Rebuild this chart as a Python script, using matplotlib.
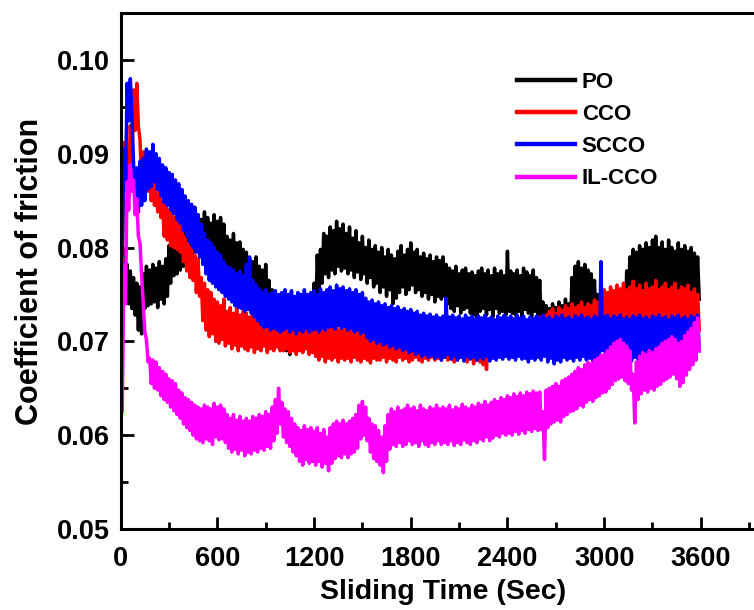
import numpy as np
import matplotlib
matplotlib.use("Agg")
import matplotlib.pyplot as plt
from matplotlib.ticker import MultipleLocator, FormatStrFormatter

plt.rcParams['font.family'] = ['Liberation Sans', 'DejaVu Sans']
plt.rcParams['font.weight'] = 'bold'

# the friction trace is a noisy band: its upper and lower edges are logged
# on staggered 20 s grids and the line swings between them
time_top = np.arange(0, 3600, 20)
time_bottom = np.arange(10, 3600, 20)

po_top = [
    0.0800, 0.0798, 0.0782, 0.0775, 0.0768, 0.0762, 0.0758, 0.0772, 0.0780, 0.0776,
    0.0782, 0.0778, 0.0785, 0.0780, 0.0788, 0.0802, 0.0800, 0.0808, 0.0815, 0.0822,
    0.0818, 0.0828, 0.0832, 0.0843, 0.0835, 0.0830, 0.0838, 0.0832, 0.0826, 0.0835,
    0.0828, 0.0832, 0.0825, 0.0812, 0.0808, 0.0815, 0.0805, 0.0806, 0.0798, 0.0795,
    0.0788, 0.0785, 0.0790, 0.0780, 0.0776, 0.0782, 0.0765, 0.0755, 0.0742, 0.0735,
    0.0732, 0.0735, 0.0728, 0.0732, 0.0726, 0.0730, 0.0725, 0.0728, 0.0722, 0.0738,
    0.0762, 0.0792, 0.0798, 0.0815, 0.0812, 0.0822, 0.0818, 0.0828, 0.0820, 0.0825,
    0.0815, 0.0822, 0.0810, 0.0818, 0.0805, 0.0812, 0.0800, 0.0808, 0.0798, 0.0802,
    0.0795, 0.0800, 0.0790, 0.0798, 0.0792, 0.0788, 0.0796, 0.0802, 0.0792, 0.0798,
    0.0805, 0.0795, 0.0798, 0.0790, 0.0794, 0.0788, 0.0792, 0.0785, 0.0790, 0.0786,
    0.0790, 0.0782, 0.0778, 0.0775, 0.0780, 0.0772, 0.0776, 0.0778, 0.0772, 0.0774,
    0.0770, 0.0775, 0.0778, 0.0772, 0.0776, 0.0770, 0.0778, 0.0772, 0.0775, 0.0770,
    0.0796, 0.0775, 0.0772, 0.0776, 0.0770, 0.0778, 0.0774, 0.0770, 0.0776, 0.0768,
    0.0765, 0.0742, 0.0738, 0.0735, 0.0740, 0.0736, 0.0742, 0.0738, 0.0745, 0.0740,
    0.0768, 0.0780, 0.0785, 0.0778, 0.0782, 0.0776, 0.0772, 0.0765, 0.0750, 0.0742,
    0.0745, 0.0738, 0.0742, 0.0736, 0.0740, 0.0745, 0.0752, 0.0775, 0.0790, 0.0798,
    0.0795, 0.0802, 0.0798, 0.0805, 0.0800, 0.0808, 0.0812, 0.0800, 0.0806, 0.0798,
    0.0808, 0.0800, 0.0796, 0.0805, 0.0798, 0.0802, 0.0796, 0.0800, 0.0794, 0.0790,
]
po_bottom = [
    0.0775, 0.0752, 0.0740, 0.0735, 0.0728, 0.0712, 0.0708, 0.0735, 0.0738, 0.0740,
    0.0742, 0.0736, 0.0745, 0.0740, 0.0748, 0.0762, 0.0770, 0.0772, 0.0776, 0.0780,
    0.0785, 0.0790, 0.0795, 0.0800, 0.0795, 0.0790, 0.0798, 0.0792, 0.0788, 0.0790,
    0.0785, 0.0788, 0.0782, 0.0775, 0.0768, 0.0772, 0.0765, 0.0768, 0.0758, 0.0755,
    0.0748, 0.0745, 0.0750, 0.0740, 0.0738, 0.0742, 0.0725, 0.0712, 0.0700, 0.0695,
    0.0692, 0.0690, 0.0686, 0.0692, 0.0688, 0.0695, 0.0692, 0.0696, 0.0694, 0.0702,
    0.0720, 0.0748, 0.0762, 0.0772, 0.0768, 0.0776, 0.0772, 0.0780, 0.0775, 0.0778,
    0.0772, 0.0776, 0.0768, 0.0774, 0.0766, 0.0772, 0.0762, 0.0768, 0.0758, 0.0762,
    0.0752, 0.0758, 0.0748, 0.0755, 0.0740, 0.0746, 0.0752, 0.0758, 0.0750, 0.0755,
    0.0760, 0.0752, 0.0755, 0.0748, 0.0752, 0.0745, 0.0750, 0.0742, 0.0748, 0.0745,
    0.0748, 0.0740, 0.0735, 0.0732, 0.0738, 0.0730, 0.0734, 0.0736, 0.0730, 0.0728,
    0.0726, 0.0732, 0.0735, 0.0728, 0.0734, 0.0726, 0.0735, 0.0730, 0.0732, 0.0728,
    0.0732, 0.0730, 0.0728, 0.0732, 0.0726, 0.0734, 0.0730, 0.0726, 0.0732, 0.0722,
    0.0718, 0.0700, 0.0695, 0.0685, 0.0698, 0.0692, 0.0700, 0.0696, 0.0702, 0.0698,
    0.0722, 0.0732, 0.0738, 0.0732, 0.0735, 0.0730, 0.0726, 0.0718, 0.0708, 0.0702,
    0.0705, 0.0698, 0.0702, 0.0696, 0.0700, 0.0705, 0.0712, 0.0735, 0.0748, 0.0752,
    0.0750, 0.0755, 0.0752, 0.0758, 0.0754, 0.0760, 0.0758, 0.0752, 0.0756, 0.0750,
    0.0758, 0.0752, 0.0750, 0.0756, 0.0750, 0.0754, 0.0748, 0.0752, 0.0746, 0.0745,
]

cco_top = [
    0.0810, 0.0912, 0.0905, 0.0930, 0.0968, 0.0975, 0.0915, 0.0902, 0.0898, 0.0888,
    0.0880, 0.0872, 0.0868, 0.0848, 0.0845, 0.0840, 0.0838, 0.0832, 0.0830, 0.0822,
    0.0812, 0.0805, 0.0800, 0.0792, 0.0788, 0.0768, 0.0762, 0.0755, 0.0752, 0.0745,
    0.0742, 0.0738, 0.0745, 0.0732, 0.0736, 0.0730, 0.0735, 0.0728, 0.0732, 0.0730,
    0.0726, 0.0735, 0.0728, 0.0732, 0.0725, 0.0730, 0.0722, 0.0728, 0.0724, 0.0726,
    0.0722, 0.0726, 0.0720, 0.0725, 0.0718, 0.0724, 0.0720, 0.0722, 0.0718, 0.0720,
    0.0716, 0.0720, 0.0714, 0.0718, 0.0712, 0.0716, 0.0715, 0.0718, 0.0712, 0.0716,
    0.0714, 0.0718, 0.0712, 0.0716, 0.0714, 0.0718, 0.0712, 0.0715, 0.0713, 0.0716,
    0.0712, 0.0716, 0.0714, 0.0718, 0.0712, 0.0715, 0.0713, 0.0716, 0.0712, 0.0714,
    0.0716, 0.0712, 0.0715, 0.0713, 0.0716, 0.0712, 0.0715, 0.0712, 0.0714, 0.0716,
    0.0714, 0.0716, 0.0712, 0.0715, 0.0713, 0.0716, 0.0712, 0.0714, 0.0712, 0.0715,
    0.0712, 0.0710, 0.0714, 0.0712, 0.0716, 0.0718, 0.0720, 0.0718, 0.0722, 0.0720,
    0.0722, 0.0720, 0.0724, 0.0722, 0.0720, 0.0724, 0.0722, 0.0725, 0.0722, 0.0724,
    0.0726, 0.0724, 0.0728, 0.0732, 0.0735, 0.0730, 0.0736, 0.0733, 0.0738, 0.0735,
    0.0740, 0.0736, 0.0738, 0.0742, 0.0736, 0.0740, 0.0738, 0.0744, 0.0742, 0.0752,
    0.0755, 0.0752, 0.0758, 0.0754, 0.0760, 0.0756, 0.0762, 0.0755, 0.0758, 0.0764,
    0.0756, 0.0760, 0.0754, 0.0762, 0.0756, 0.0758, 0.0765, 0.0755, 0.0758, 0.0762,
    0.0755, 0.0758, 0.0762, 0.0754, 0.0758, 0.0756, 0.0760, 0.0752, 0.0756, 0.0750,
]
cco_bottom = [
    0.0770, 0.0872, 0.0868, 0.0890, 0.0925, 0.0930, 0.0872, 0.0868, 0.0860, 0.0850,
    0.0845, 0.0838, 0.0832, 0.0812, 0.0808, 0.0802, 0.0800, 0.0798, 0.0795, 0.0785,
    0.0775, 0.0768, 0.0765, 0.0752, 0.0748, 0.0722, 0.0712, 0.0705, 0.0708, 0.0700,
    0.0698, 0.0702, 0.0695, 0.0698, 0.0692, 0.0696, 0.0690, 0.0695, 0.0692, 0.0690,
    0.0694, 0.0688, 0.0692, 0.0690, 0.0695, 0.0688, 0.0692, 0.0690, 0.0694, 0.0690,
    0.0690, 0.0692, 0.0688, 0.0690, 0.0686, 0.0690, 0.0688, 0.0692, 0.0686, 0.0688,
    0.0684, 0.0680, 0.0684, 0.0678, 0.0682, 0.0680, 0.0683, 0.0678, 0.0682, 0.0680,
    0.0682, 0.0678, 0.0683, 0.0680, 0.0678, 0.0682, 0.0680, 0.0677, 0.0682, 0.0680,
    0.0680, 0.0683, 0.0678, 0.0682, 0.0680, 0.0678, 0.0683, 0.0680, 0.0682, 0.0678,
    0.0680, 0.0683, 0.0680, 0.0678, 0.0682, 0.0680, 0.0683, 0.0680, 0.0682, 0.0680,
    0.0683, 0.0680, 0.0682, 0.0678, 0.0680, 0.0683, 0.0680, 0.0678, 0.0682, 0.0676,
    0.0680, 0.0678, 0.0675, 0.0670, 0.0680, 0.0684, 0.0688, 0.0686, 0.0690, 0.0688,
    0.0690, 0.0688, 0.0692, 0.0690, 0.0688, 0.0692, 0.0690, 0.0693, 0.0690, 0.0692,
    0.0694, 0.0692, 0.0695, 0.0698, 0.0700, 0.0698, 0.0702, 0.0700, 0.0703, 0.0700,
    0.0704, 0.0702, 0.0705, 0.0708, 0.0702, 0.0706, 0.0704, 0.0708, 0.0706, 0.0712,
    0.0715, 0.0712, 0.0716, 0.0714, 0.0718, 0.0715, 0.0720, 0.0715, 0.0718, 0.0720,
    0.0715, 0.0718, 0.0714, 0.0720, 0.0715, 0.0718, 0.0720, 0.0714, 0.0716, 0.0720,
    0.0714, 0.0718, 0.0720, 0.0714, 0.0716, 0.0715, 0.0718, 0.0712, 0.0715, 0.0712,
]

scco_top = [
    0.0830, 0.0905, 0.0975, 0.0980, 0.0890, 0.0885, 0.0892, 0.0895, 0.0905, 0.0902,
    0.0910, 0.0900, 0.0895, 0.0888, 0.0885, 0.0880, 0.0878, 0.0872, 0.0868, 0.0862,
    0.0855, 0.0850, 0.0846, 0.0842, 0.0835, 0.0825, 0.0815, 0.0808, 0.0805, 0.0800,
    0.0795, 0.0792, 0.0785, 0.0780, 0.0778, 0.0776, 0.0772, 0.0775, 0.0770, 0.0782,
    0.0790, 0.0765, 0.0760, 0.0756, 0.0752, 0.0755, 0.0750, 0.0752, 0.0754, 0.0750,
    0.0752, 0.0755, 0.0750, 0.0754, 0.0748, 0.0752, 0.0750, 0.0755, 0.0750, 0.0752,
    0.0754, 0.0750, 0.0756, 0.0752, 0.0755, 0.0758, 0.0754, 0.0760, 0.0756, 0.0758,
    0.0754, 0.0756, 0.0752, 0.0755, 0.0750, 0.0752, 0.0746, 0.0742, 0.0744, 0.0740,
    0.0742, 0.0738, 0.0740, 0.0736, 0.0738, 0.0735, 0.0737, 0.0733, 0.0735, 0.0732,
    0.0734, 0.0730, 0.0732, 0.0728, 0.0730, 0.0727, 0.0729, 0.0726, 0.0728, 0.0725,
    0.0727, 0.0746, 0.0726, 0.0728, 0.0725, 0.0727, 0.0724, 0.0728, 0.0725, 0.0727,
    0.0724, 0.0727, 0.0725, 0.0728, 0.0724, 0.0726, 0.0723, 0.0727, 0.0725, 0.0728,
    0.0725, 0.0727, 0.0724, 0.0728, 0.0725, 0.0727, 0.0723, 0.0726, 0.0724, 0.0727,
    0.0725, 0.0728, 0.0724, 0.0726, 0.0723, 0.0727, 0.0725, 0.0728, 0.0724, 0.0726,
    0.0723, 0.0727, 0.0725, 0.0728, 0.0724, 0.0726, 0.0723, 0.0727, 0.0725, 0.0785,
    0.0726, 0.0728, 0.0724, 0.0727, 0.0725, 0.0728, 0.0724, 0.0726, 0.0723, 0.0727,
    0.0725, 0.0728, 0.0724, 0.0726, 0.0723, 0.0727, 0.0725, 0.0728, 0.0724, 0.0726,
    0.0723, 0.0727, 0.0725, 0.0728, 0.0724, 0.0726, 0.0723, 0.0727, 0.0725, 0.0728,
]
scco_bottom = [
    0.0790, 0.0860, 0.0935, 0.0940, 0.0845, 0.0838, 0.0845, 0.0850, 0.0862, 0.0865,
    0.0870, 0.0862, 0.0855, 0.0848, 0.0845, 0.0840, 0.0836, 0.0830, 0.0826, 0.0818,
    0.0812, 0.0805, 0.0800, 0.0795, 0.0790, 0.0782, 0.0772, 0.0765, 0.0762, 0.0758,
    0.0755, 0.0752, 0.0748, 0.0745, 0.0742, 0.0738, 0.0736, 0.0735, 0.0732, 0.0734,
    0.0730, 0.0726, 0.0722, 0.0718, 0.0715, 0.0716, 0.0712, 0.0714, 0.0712, 0.0710,
    0.0712, 0.0714, 0.0710, 0.0713, 0.0708, 0.0712, 0.0710, 0.0714, 0.0710, 0.0712,
    0.0713, 0.0710, 0.0714, 0.0712, 0.0715, 0.0716, 0.0713, 0.0717, 0.0714, 0.0716,
    0.0712, 0.0714, 0.0710, 0.0712, 0.0708, 0.0710, 0.0704, 0.0700, 0.0702, 0.0698,
    0.0700, 0.0696, 0.0698, 0.0694, 0.0696, 0.0692, 0.0694, 0.0690, 0.0692, 0.0688,
    0.0690, 0.0686, 0.0688, 0.0684, 0.0686, 0.0683, 0.0685, 0.0682, 0.0684, 0.0680,
    0.0683, 0.0686, 0.0681, 0.0684, 0.0680, 0.0683, 0.0679, 0.0684, 0.0681, 0.0683,
    0.0680, 0.0683, 0.0681, 0.0684, 0.0679, 0.0682, 0.0680, 0.0683, 0.0681, 0.0684,
    0.0681, 0.0683, 0.0680, 0.0684, 0.0681, 0.0682, 0.0678, 0.0682, 0.0680, 0.0683,
    0.0680, 0.0684, 0.0678, 0.0682, 0.0676, 0.0680, 0.0678, 0.0683, 0.0680, 0.0682,
    0.0679, 0.0683, 0.0680, 0.0684, 0.0680, 0.0682, 0.0679, 0.0683, 0.0681, 0.0690,
    0.0682, 0.0684, 0.0680, 0.0683, 0.0681, 0.0684, 0.0680, 0.0682, 0.0679, 0.0683,
    0.0681, 0.0684, 0.0680, 0.0682, 0.0679, 0.0683, 0.0681, 0.0684, 0.0680, 0.0682,
    0.0679, 0.0683, 0.0681, 0.0684, 0.0680, 0.0682, 0.0679, 0.0683, 0.0681, 0.0690,
]

il_cco_top = [
    0.0650, 0.0780, 0.0870, 0.0888, 0.0872, 0.0852, 0.0805, 0.0742, 0.0702, 0.0682,
    0.0680, 0.0678, 0.0672, 0.0668, 0.0665, 0.0660, 0.0658, 0.0655, 0.0648, 0.0645,
    0.0640, 0.0638, 0.0635, 0.0632, 0.0630, 0.0628, 0.0632, 0.0630, 0.0628, 0.0634,
    0.0630, 0.0632, 0.0628, 0.0622, 0.0618, 0.0622, 0.0616, 0.0620, 0.0615, 0.0618,
    0.0615, 0.0620, 0.0618, 0.0622, 0.0620, 0.0625, 0.0622, 0.0630, 0.0638, 0.0650,
    0.0635, 0.0628, 0.0625, 0.0618, 0.0612, 0.0608, 0.0605, 0.0610, 0.0606, 0.0608,
    0.0604, 0.0608, 0.0602, 0.0606, 0.0598, 0.0608, 0.0612, 0.0615, 0.0612, 0.0616,
    0.0612, 0.0615, 0.0618, 0.0622, 0.0632, 0.0636, 0.0630, 0.0618, 0.0612, 0.0610,
    0.0605, 0.0598, 0.0610, 0.0622, 0.0628, 0.0625, 0.0630, 0.0626, 0.0628, 0.0632,
    0.0628, 0.0630, 0.0626, 0.0632, 0.0628, 0.0626, 0.0630, 0.0628, 0.0632, 0.0628,
    0.0630, 0.0628, 0.0632, 0.0627, 0.0630, 0.0628, 0.0633, 0.0630, 0.0628, 0.0632,
    0.0630, 0.0634, 0.0632, 0.0636, 0.0632, 0.0635, 0.0638, 0.0636, 0.0640, 0.0638,
    0.0642, 0.0640, 0.0644, 0.0641, 0.0645, 0.0642, 0.0646, 0.0644, 0.0647, 0.0645,
    0.0646, 0.0625, 0.0648, 0.0650, 0.0652, 0.0655, 0.0652, 0.0658, 0.0660, 0.0662,
    0.0665, 0.0668, 0.0672, 0.0670, 0.0675, 0.0678, 0.0676, 0.0680, 0.0682, 0.0685,
    0.0686, 0.0690, 0.0694, 0.0698, 0.0700, 0.0702, 0.0698, 0.0695, 0.0690, 0.0665,
    0.0678, 0.0684, 0.0688, 0.0686, 0.0690, 0.0688, 0.0692, 0.0694, 0.0698, 0.0700,
    0.0702, 0.0705, 0.0702, 0.0698, 0.0700, 0.0706, 0.0710, 0.0714, 0.0720, 0.0725,
]
il_cco_bottom = [
    0.0625, 0.0740, 0.0840, 0.0860, 0.0835, 0.0812, 0.0772, 0.0710, 0.0678, 0.0655,
    0.0650, 0.0648, 0.0642, 0.0638, 0.0635, 0.0630, 0.0626, 0.0622, 0.0618, 0.0612,
    0.0608, 0.0605, 0.0600, 0.0596, 0.0594, 0.0592, 0.0596, 0.0594, 0.0590, 0.0598,
    0.0595, 0.0596, 0.0592, 0.0586, 0.0582, 0.0585, 0.0580, 0.0584, 0.0578, 0.0582,
    0.0580, 0.0584, 0.0582, 0.0586, 0.0584, 0.0588, 0.0586, 0.0594, 0.0602, 0.0612,
    0.0598, 0.0592, 0.0588, 0.0582, 0.0578, 0.0572, 0.0568, 0.0574, 0.0570, 0.0572,
    0.0568, 0.0572, 0.0566, 0.0570, 0.0562, 0.0570, 0.0575, 0.0578, 0.0576, 0.0580,
    0.0576, 0.0580, 0.0582, 0.0586, 0.0596, 0.0600, 0.0594, 0.0582, 0.0575, 0.0572,
    0.0568, 0.0560, 0.0572, 0.0585, 0.0590, 0.0588, 0.0592, 0.0588, 0.0590, 0.0594,
    0.0590, 0.0592, 0.0588, 0.0594, 0.0590, 0.0588, 0.0592, 0.0590, 0.0594, 0.0590,
    0.0592, 0.0590, 0.0594, 0.0589, 0.0592, 0.0590, 0.0595, 0.0592, 0.0590, 0.0594,
    0.0592, 0.0596, 0.0594, 0.0598, 0.0594, 0.0597, 0.0600, 0.0598, 0.0602, 0.0600,
    0.0602, 0.0600, 0.0604, 0.0601, 0.0605, 0.0602, 0.0606, 0.0604, 0.0607, 0.0605,
    0.0606, 0.0574, 0.0608, 0.0612, 0.0614, 0.0616, 0.0614, 0.0620, 0.0622, 0.0625,
    0.0626, 0.0628, 0.0632, 0.0630, 0.0635, 0.0638, 0.0636, 0.0640, 0.0642, 0.0645,
    0.0646, 0.0650, 0.0654, 0.0658, 0.0660, 0.0662, 0.0658, 0.0655, 0.0648, 0.0613,
    0.0638, 0.0644, 0.0648, 0.0646, 0.0650, 0.0648, 0.0652, 0.0654, 0.0658, 0.0660,
    0.0662, 0.0665, 0.0660, 0.0652, 0.0656, 0.0664, 0.0670, 0.0675, 0.0680, 0.0690,
]

labels = ['PO', 'CCO', 'SCCO', 'IL-CCO']
colors = ['black', '#ff0000', '#0000ff', '#ff00ff']
bands = [(po_top, po_bottom), (cco_top, cco_bottom),
         (scco_top, scco_bottom), (il_cco_top, il_cco_bottom)]


def zigzag(top, bottom):
    # merge the two edges into one time-ordered trace
    t = np.empty(len(time_top) + len(time_bottom))
    y = np.empty_like(t)
    t[0::2], t[1::2] = time_top, time_bottom
    y[0::2], y[1::2] = top, bottom
    return t, y


fig = plt.figure(figsize=(7.54, 6.10), dpi=100)
ax = fig.add_axes([0.160, 0.1328, 0.855, 0.8459])

for (top, bottom), lab, c in zip(bands, labels, colors):
    t, y = zigzag(top, bottom)
    ax.plot(t, y, color=c, lw=2.5, label=lab)

ax.set_xlim(0, 4000)
ax.set_ylim(0.05, 0.105)
ax.xaxis.set_major_locator(MultipleLocator(600))
ax.xaxis.set_minor_locator(MultipleLocator(300))
ax.yaxis.set_major_locator(MultipleLocator(0.01))
ax.yaxis.set_minor_locator(MultipleLocator(0.005))
ax.yaxis.set_major_formatter(FormatStrFormatter('%.2f'))
ax.set_xticks([0, 600, 1200, 1800, 2400, 3000, 3600])

ax.tick_params(which='both', direction='in', width=2, top=False, right=False,
               labelsize=19.5)
ax.tick_params(axis='x', pad=12)
ax.tick_params(axis='y', pad=8)
ax.tick_params(which='major', length=9)
ax.tick_params(which='minor', length=5)
for s in ax.spines.values():
    s.set_linewidth(2.2)

ax.set_xlabel('Sliding Time (Sec)', fontsize=20.5, fontweight='bold', labelpad=5)
ax.set_ylabel('Coefficient of friction', fontsize=22, fontweight='bold', labelpad=8)

leg = fig.legend(loc='upper left', bbox_to_anchor=(0.686, 0.882), frameon=False,
                 fontsize=16, handlelength=2.6, handletextpad=0.3,
                 labelspacing=0.5, borderpad=0, borderaxespad=0)
for h in leg.get_lines():
    h.set_linewidth(3.2)

fig.savefig('out.png', dpi=100)
